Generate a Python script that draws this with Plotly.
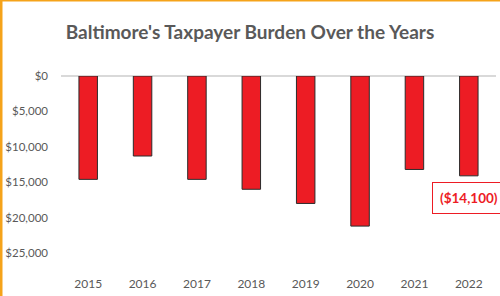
import plotly.graph_objects as go

years = ["2015", "2016", "2017", "2018", "2019", "2020", "2021", "2022"]
burden = [-14600, -11300, -14600, -16000, -18000, -21200, -13200, -14100]
y_tick_vals = [0, -5000, -10000, -15000, -20000, -25000]
y_tick_text = ["$0", "$5,000", "$10,000", "$15,000", "$20,000", "$25,000"]
callout_text = "($14,100)"

FONT = "Lato, Roboto, sans-serif"
GRAY = "#595959"
RED = "#ED1C24"
ORANGE = "#F5A31A"

PW, PH = 435, 177  # plot area size in px
ML, MR, MT, MB = 61, 4, 76, 43

fig = go.Figure()
fig.add_trace(go.Bar(
    x=years, y=burden,
    marker=dict(color=RED, line=dict(color="#2b2b2b", width=1)),
    width=0.34,
    hoverinfo="skip",
))

fig.add_annotation(
    x=len(years) - 1, y=burden[-1], yref="y", xref="x",
    text=f"<b>{callout_text}</b>",
    showarrow=False, yanchor="top", yshift=-6,
    font=dict(family=FONT, size=13.5, color=RED),
    bordercolor=RED, borderwidth=1, borderpad=7, bgcolor="white",
)

fig.update_layout(
    width=500, height=296,
    margin=dict(l=ML, r=MR, t=MT, b=MB),
    paper_bgcolor="white", plot_bgcolor="white",
    showlegend=False,
    title=dict(
        text="<b>Baltimore's Taxpayer Burden Over the Years</b>",
        x=0.5, xanchor="center", y=1 - 32 / 296, yanchor="middle",
        font=dict(family=FONT, size=19, color=GRAY),
    ),
    xaxis=dict(
        type="category", showgrid=False, zeroline=False, showline=False,
        ticks="", ticklabelstandoff=22, automargin=False,
        tickfont=dict(family=FONT, size=12, color=GRAY),
        range=[-0.5, 7.5],
    ),
    yaxis=dict(
        range=[-25000, 0], tickvals=y_tick_vals, ticktext=y_tick_text,
        showgrid=False, zeroline=True, zerolinecolor="#d9d9d9", zerolinewidth=1.5,
        showline=False, ticks="", ticklabelstandoff=12, automargin=False,
        tickfont=dict(family=FONT, size=11.5, color=GRAY),
    ),
    shapes=[
        dict(type="rect", xref="paper", yref="paper", x0=-ML / PW, x1=-(ML - 2.5) / PW,
             y0=-MB / PH, y1=(PH + MT) / PH, fillcolor=ORANGE, line=dict(width=0)),
        dict(type="rect", xref="paper", yref="paper", x0=-ML / PW, x1=(PW + MR) / PW,
             y0=(PH + MT - 1.5) / PH, y1=(PH + MT) / PH, fillcolor=ORANGE, line=dict(width=0)),
    ],
)

fig.write_html(
    "out.html",
    config={"displayModeBar": False},
    post_script="document.body.style.margin='0';document.body.style.padding='0';",
)
